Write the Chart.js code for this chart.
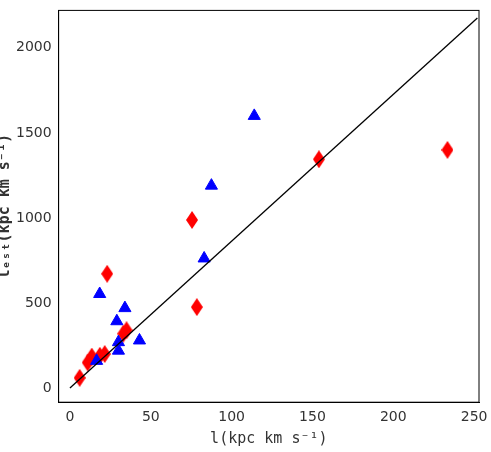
<!DOCTYPE html>
<html><head><meta charset="utf-8">
<script src="https://cdn.jsdelivr.net/npm/chart.js@4/dist/chart.umd.min.js"></script>
<style>body{margin:0;background:#fff}#wrap{width:491px;height:452px}</style>
</head><body><div id="wrap"><canvas id="c"></canvas></div>
<script>
// data
const blueX = [16.5, 18.4, 30, 30, 29, 34, 43, 83, 87.5, 114];
const blueY = [160, 553, 220, 270, 393, 470, 280, 762, 1190, 1600];
const redX = [6, 11, 13.5, 18.5, 21.5, 23, 33, 35, 75.5, 78.5, 154, 233.5];
const redY = [60, 150, 185, 190, 200, 672, 320, 340, 988, 476, 1345, 1400];
const lineX = [0, 252];
const lineY = [0, 2175];

function diamond() {
  const cv = document.createElement('canvas');
  cv.width = 12; cv.height = 18;
  const g = cv.getContext('2d');
  g.fillStyle = '#ff0000';
  g.beginPath(); g.moveTo(6, 0); g.lineTo(12, 9); g.lineTo(6, 18); g.lineTo(0, 9); g.closePath(); g.fill();
  return cv;
}
function pts(xs, ys) { return xs.map((x, i) => ({ x: x, y: ys[i] })); }

const font = { family: 'DejaVu Sans', size: 14 };
new Chart(document.getElementById('c'), {
  type: 'scatter',
  data: {
    datasets: [
      { data: pts(lineX, lineY), showLine: true, borderColor: '#000', borderWidth: 1.3, pointRadius: 0 },
      { data: pts(blueX, blueY), pointStyle: 'triangle', pointRadius: 7, backgroundColor: '#0000ff', borderColor: '#0000ff' },
      { data: pts(redX, redY), pointStyle: diamond(), backgroundColor: '#ff0000' }
    ]
  },
  options: {
    responsive: true, maintainAspectRatio: false, animation: false,
    layout: { padding: { top: -4, right: 12, left: -4, bottom: 4 } },
    plugins: { legend: { display: false }, tooltip: { enabled: false } },
    scales: {
      x: {
        min: -7, max: 253,
        grid: { display: false, tickLength: 5 },
        border: { color: '#000' },
        afterBuildTicks: a => { a.ticks = [0, 50, 100, 150, 200, 250].map(v => ({ value: v })); },
        ticks: { color: '#333', font: font, padding: 2, callback: v => String(v) },
        title: { display: true, text: 'l(kpc km s⁻¹)', color: '#333', padding: { top: 2, bottom: 0 }, font: { family: 'DejaVu Sans Mono', size: 15 } }
      },
      y: {
        min: -83, max: 2220,
        grid: { display: false, tickLength: 5 },
        border: { color: '#000' },
        afterBuildTicks: a => { a.ticks = [0, 500, 1000, 1500, 2000].map(v => ({ value: v })); },
        ticks: { color: '#333', font: font, padding: 2, callback: v => String(v) },
        title: { display: true, text: 'lₑₛₜ(kpc km s⁻¹)', color: '#333', padding: 0, font: { family: 'DejaVu Sans Mono', size: 15, weight: 'bold' } }
      }
    }
  },
  plugins: [{
    id: 'frame',
    afterDraw(ch) {
      const a = ch.chartArea, g = ch.ctx;
      g.save(); g.strokeStyle = '#000'; g.lineWidth = 1;
      g.strokeRect(a.left, a.top, a.right - a.left, a.bottom - a.top);
      g.restore();
    }
  }]
});
</script></body></html>
